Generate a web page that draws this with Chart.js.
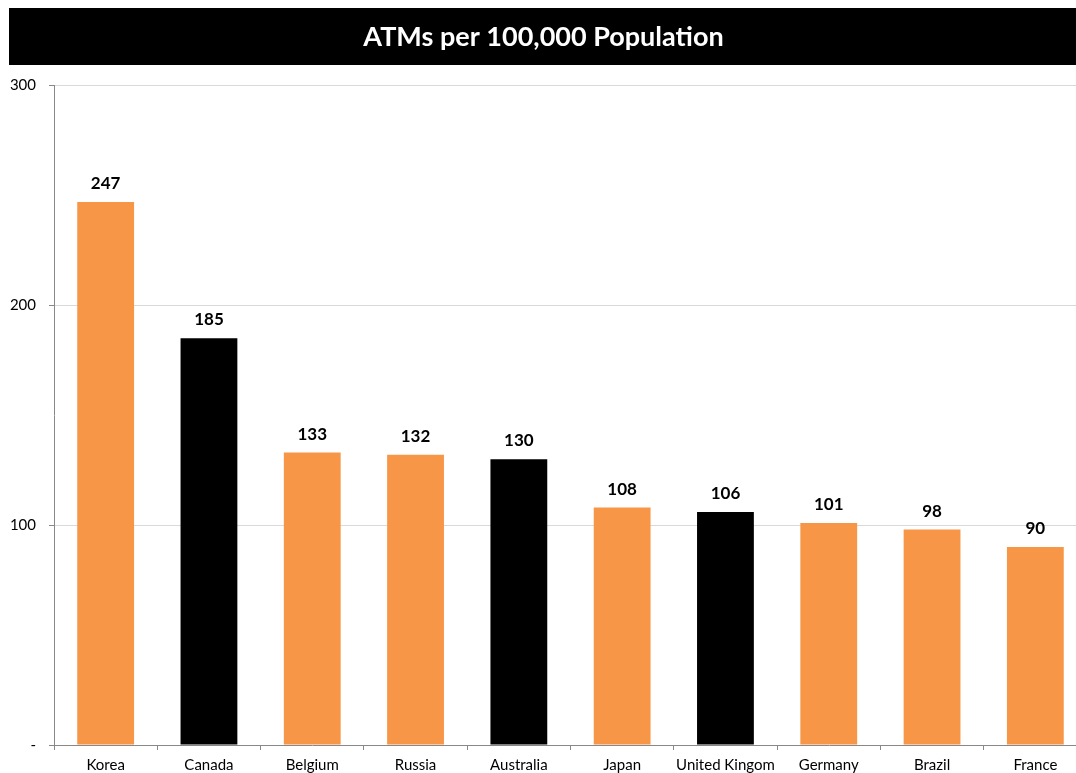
<!DOCTYPE html>
<html>
<head>
<meta charset="utf-8">
<script src="https://cdn.jsdelivr.net/npm/chart.js@4/dist/chart.umd.min.js"></script>
<style>
  html, body { margin: 0; padding: 0; background: #fff; overflow: hidden; }
  #wrap { width: 1087px; height: 773px; position: relative; }
</style>
</head>
<body>
<div id="wrap"><canvas id="c"></canvas></div>
<script>
const countries = ['Korea', 'Canada', 'Belgium', 'Russia', 'Australia', 'Japan', 'United Kingom', 'Germany', 'Brazil', 'France'];
const atmsPer100k = [247, 185, 133, 132, 130, 108, 106, 101, 98, 90];
const highlighted = [false, true, false, false, true, false, true, false, false, false];
const yTicks = [0, 100, 200, 300];

const ORANGE = '#F79646';
const BLACK = '#000000';
const FONT = 'Lato, "Open Sans", sans-serif';

// Black banner behind the chart title
const titleBanner = {
  id: 'titleBanner',
  beforeDraw(chart) {
    const tb = chart.titleBlock;
    if (!tb) return;
    const ctx = chart.ctx;
    ctx.save();
    ctx.fillStyle = '#000';
    ctx.fillRect(9, tb.top, chart.width - 9, 57);
    ctx.restore();
  }
};

// Value labels above each bar
const valueLabels = {
  id: 'valueLabels',
  afterDatasetsDraw(chart) {
    const ctx = chart.ctx;
    const meta = chart.getDatasetMeta(0);
    const data = chart.data.datasets[0].data;
    ctx.save();
    ctx.font = 'bold 17px ' + FONT;
    ctx.fillStyle = '#000';
    ctx.textAlign = 'center';
    ctx.textBaseline = 'alphabetic';
    meta.data.forEach((bar, i) => {
      ctx.fillText(String(data[i]), bar.x, bar.y - 13);
    });
    ctx.restore();
  }
};

new Chart(document.getElementById('c'), {
  type: 'bar',
  data: {
    labels: countries,
    datasets: [{
      data: atmsPer100k,
      backgroundColor: highlighted.map(h => h ? BLACK : ORANGE),
      borderWidth: 0,
      categoryPercentage: 1.0,
      barPercentage: 0.55
    }]
  },
  options: {
    responsive: true,
    maintainAspectRatio: false,
    animation: false,
    layout: { padding: { top: 8, left: 0, right: 0, bottom: 0 } },
    plugins: {
      legend: { display: false },
      tooltip: { enabled: false },
      title: {
        display: true,
        text: 'ATMs per 100,000 Population',
        color: '#fff',
        font: { family: FONT, size: 27, weight: 'bold', lineHeight: 1.2 },
        padding: { top: 13, bottom: 32 }
      }
    },
    scales: {
      x: {
        afterFit(scale) { scale.height = 28; },
        grid: {
          display: true,
          drawOnChartArea: false,
          offset: true,
          tickLength: 5,
          tickColor: '#888888'
        },
        border: { display: true, color: '#888888', width: 1 },
        ticks: {
          color: '#000',
          font: { family: FONT, size: 15, lineHeight: 1.0 },
          padding: 8,
          maxRotation: 0,
          autoSkip: false
        }
      },
      y: {
        min: 0,
        max: 300,
        afterFit(scale) { scale.width = 54; },
        afterBuildTicks(scale) { scale.ticks = yTicks.map(v => ({ value: v })); },
        grid: {
          color: (ctx) => ctx.tick && ctx.tick.value === 0 ? 'rgba(0,0,0,0)' : '#D9D9D9',
          tickColor: '#888888',
          tickLength: 5
        },
        border: { display: true, color: '#888888', width: 1 },
        ticks: {
          color: '#000',
          font: { family: FONT, size: 15 },
          padding: 13,
          callback: (v) => v === 0 ? '-' : String(v)
        }
      }
    }
  },
  plugins: [titleBanner, valueLabels]
});
</script>
</body>
</html>
